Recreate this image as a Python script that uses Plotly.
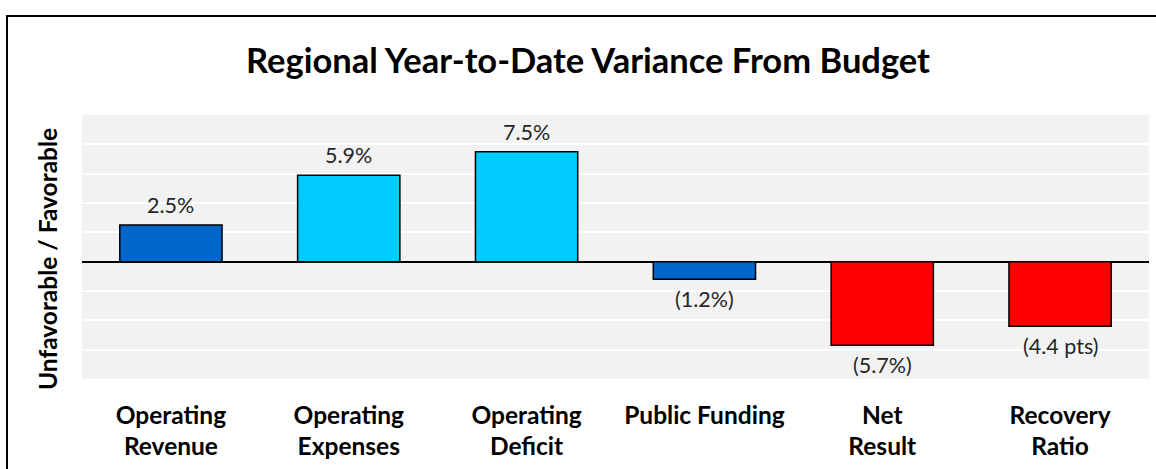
import plotly.graph_objects as go

# ---- data ----
categories = ["Operating<br>Revenue", "Operating<br>Expenses", "Operating<br>Deficit",
              "Public Funding", "Net<br>Result", "Recovery<br>Ratio"]
values = [2.5, 5.9, 7.5, -1.2, -5.7, -4.4]
value_labels = ["2.5%", "5.9%", "7.5%", "(1.2%)", "(5.7%)", "(4.4 pts)"]
bar_colors = ["#0066cc", "#00ccff", "#00ccff", "#0066cc", "#ff0000", "#ff0000"]

W, H = 1156, 469
ML, MR, MT, MB = 82, 7, 115, 90
PW, PH = W - ML - MR, H - MT - MB
FONT = "Lato"

fig = go.Figure()
fig.add_trace(go.Bar(
    x=categories, y=values,
    marker=dict(color=bar_colors, line=dict(color="black", width=1.5)),
    width=0.575, hoverinfo="skip", showlegend=False,
))

for c, v, t in zip(categories, values, value_labels):
    fig.add_annotation(
        x=c, y=v, text=t, showarrow=False,
        yshift=20 if v >= 0 else -20,
        font=dict(family=FONT, size=21.5, color="#262626"),
        xanchor="center", yanchor="middle",
    )

# y axis title
fig.add_annotation(
    xref="paper", yref="paper",
    x=(47 - ML) / PW, y=(MT + PH - 259) / PH,
    text="<b>Unfavorable / Favorable</b>", textangle=-90, showarrow=False,
    font=dict(family=FONT, size=24.5, color="black"),
    xanchor="center", yanchor="middle",
)

# outer frame
fig.add_shape(
    type="rect", xref="paper", yref="paper",
    x0=(7 - ML) / PW, x1=(W + 10 - ML) / PW,
    y0=(MT + PH - (H + 10)) / PH, y1=(MT + PH - 16) / PH,
    line=dict(color="black", width=2), fillcolor="rgba(0,0,0,0)",
)

fig.update_layout(
    width=W, height=H,
    margin=dict(l=ML, r=MR, t=MT, b=MB),
    paper_bgcolor="white", plot_bgcolor="#f2f2f2",
    title=dict(
        text="<b>Regional Year-to-Date Variance From Budget</b>",
        x=588 / W, xref="container", xanchor="center",
        y=1 - 61 / H, yref="container", yanchor="middle",
        font=dict(family=FONT, size=34.5, color="black"),
    ),
    xaxis=dict(
        showgrid=False, showline=False, zeroline=False, ticks="",
        tickfont=dict(family=FONT, size=24.5, color="black"),
        ticklabelstandoff=19,
    ),
    yaxis=dict(
        range=[-8, 10], dtick=2, showticklabels=False, ticks="",
        showgrid=True, gridcolor="white", gridwidth=2,
        zeroline=True, zerolinecolor="black", zerolinewidth=2,
        showline=False,
    ),
    font=dict(family=FONT),
)
fig.update_xaxes(tickprefix="<b>", ticksuffix="</b>")

fig.write_html(
    "out.html",
    config={"displayModeBar": False},
    post_script="document.body.style.margin='0';document.body.style.overflow='hidden';",
)
